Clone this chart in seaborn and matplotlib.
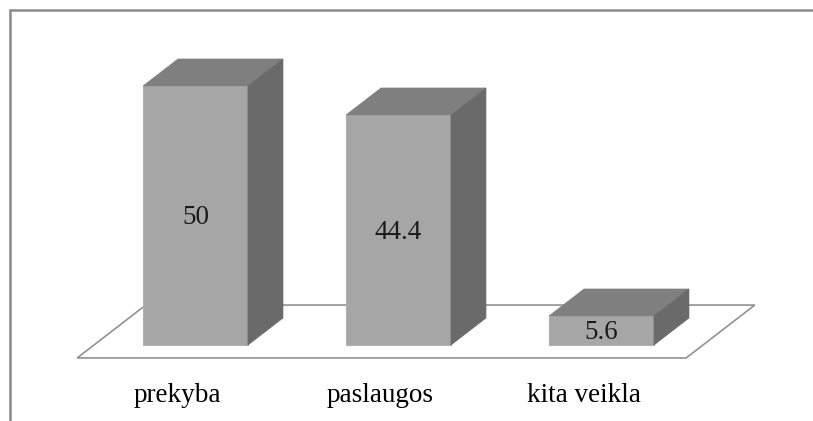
import matplotlib
matplotlib.use("Agg")
import matplotlib.pyplot as plt
import seaborn as sns
import numpy as np
from matplotlib.patches import Polygon
from matplotlib.transforms import IdentityTransform, offset_copy
from matplotlib.lines import Line2D

# ---- data ----
categories = ["prekyba", "paslaugos", "kita veikla"]
values = [50, 44.4, 5.6]
value_labels = ["50", "44.4", "5.6"]

# ---- style ----
sns.set_theme(style="white")
plt.rcParams["font.family"] = ["Liberation Serif", "DejaVu Serif"]

FRONT = "#A6A6A6"
TOP = "#7F7F7F"
SIDE = "#6A6A6A"
FLOOR_EDGE = "#929292"
FRAME = "#8A8A8A"
DEPTH = np.array([35.0, 27.0])   # 3-D depth offset in pixels
FLOOR_MARGIN = 0.48              # floor extends this fraction of depth before/behind bars
FONT_SIZE = 19.5

DPI = 100
fig = plt.figure(figsize=(8.13, 4.21), dpi=DPI)
fig.patch.set_facecolor("white")
ax = fig.add_axes([0, 0, 1, 1])
sns.barplot(x=categories, y=values, color=FRONT, saturation=1, width=0.517,
            ax=ax, edgecolor="#B0B0B0", linewidth=0.8, zorder=3)
ax.set_xlim(-0.963, 3.042)
ax.set_ylim(-14.67, 66.6)
ax.axis("off")

T = ax.transData.transform
ident = IdentityTransform()

# floor
n = len(categories)
fl = T((-0.5, 0))
fr = T((n - 0.5, 0))
floor = [fl - FLOOR_MARGIN * DEPTH, fr - FLOOR_MARGIN * DEPTH,
         fr + (1 + FLOOR_MARGIN) * DEPTH, fl + (1 + FLOOR_MARGIN) * DEPTH]
ax.add_patch(Polygon(floor, closed=True, facecolor="white", edgecolor=FLOOR_EDGE,
                     linewidth=1.2, transform=ident, zorder=1, clip_on=False))

# 3-D top and side faces derived from the seaborn bars
for p in list(ax.patches):
    if p.get_zorder() != 3:
        continue
    x0, w, h = p.get_x(), p.get_width(), p.get_height()
    tl, tr = T((x0, h)), T((x0 + w, h))
    br = T((x0 + w, 0))
    ax.add_patch(Polygon([tl, tr, tr + DEPTH, tl + DEPTH], closed=True,
                         facecolor=TOP, edgecolor=TOP, linewidth=0.5,
                         transform=ident, zorder=4, clip_on=False))
    ax.add_patch(Polygon([br, tr, tr + DEPTH, br + DEPTH], closed=True,
                         facecolor=SIDE, edgecolor=SIDE, linewidth=0.5,
                         transform=ident, zorder=4, clip_on=False))

# value labels
val_tr = offset_copy(ax.transData, fig=fig, x=0, y=-2, units="dots")
for i, (v, lab) in enumerate(zip(values, value_labels)):
    ax.text(i, v / 2, lab, transform=val_tr, ha="center", va="center",
            fontsize=FONT_SIZE, color="#1A1A1A", zorder=6)

# category labels
lab_tr = offset_copy(ax.transData, fig=fig, x=-18, y=-57, units="dots")
for i, c in enumerate(categories):
    ax.text(i, 0, c, transform=lab_tr, ha="center", va="baseline",
            fontsize=FONT_SIZE, color="black", zorder=6)

# chart frame (left and top edges visible)
fig.add_artist(Line2D([9.5, 9.5], [0, 411], color=FRAME, linewidth=1.8,
                      transform=ident))
fig.add_artist(Line2D([9.5, 813], [411, 411], color=FRAME, linewidth=1.8,
                      transform=ident))

fig.savefig("out.png", dpi=DPI, facecolor="white")
